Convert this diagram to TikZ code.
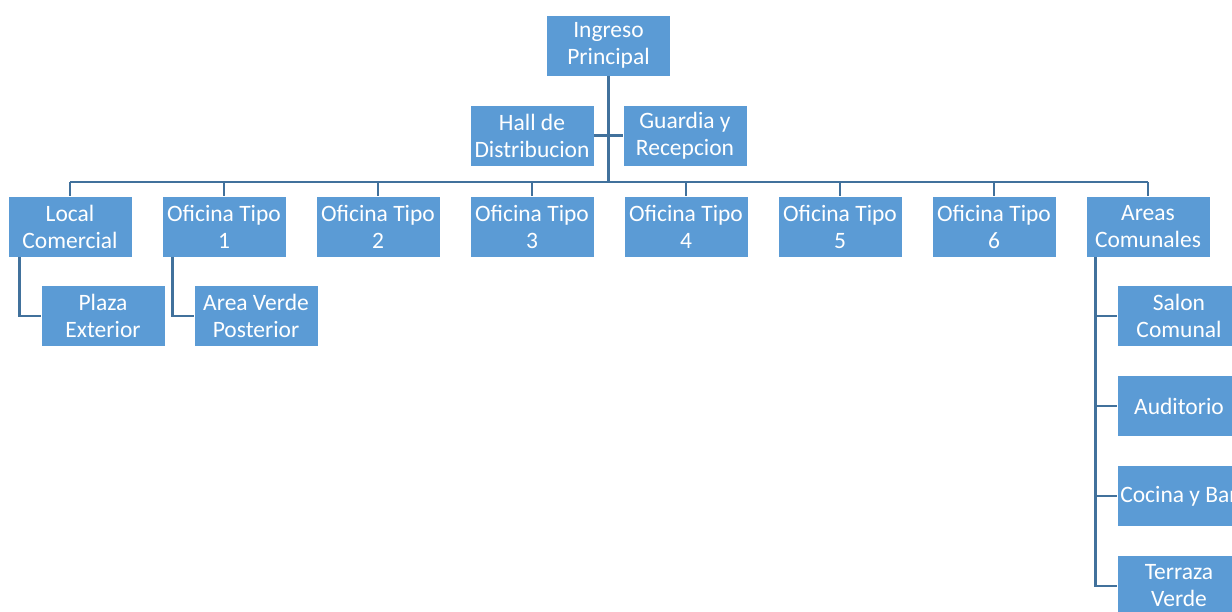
\documentclass[tikz,border=0pt]{standalone}
\usepackage{fontspec}
\setmainfont{Carlito}
\definecolor{boxblue}{HTML}{5B9BD5}
\definecolor{linkblue}{HTML}{41719C}
\begin{document}
\begin{tikzpicture}[x=1pt,y=-1pt,
  unit/.style={fill=boxblue,draw=white,line width=0.8pt,text=white,
    minimum width=124pt,minimum height=61pt,inner sep=0pt,align=center,
    font=\fontsize{23.5}{27}\selectfont},
  link/.style={draw=linkblue,line width=2.6pt}]
\useasboundingbox (0,0) rectangle (1232,612);
\clip (0,0) rectangle (1232,612);

% top level
\node[unit] (ing) at (608.5,45.5) {Ingreso\\Principal};
\node[unit] (hall) at (532,135.5) {Hall de\\Distribucion};
\node[unit] (guard) at (685,135.5) {Guardia y\\Recepcion};
\coordinate (bus) at (609,182);

% second row
\node[unit] (loc) at (70,226.5) {Local\\Comercial};
\node[unit] (of1) at (224,226.5) {Oficina Tipo\\1};
\node[unit] (of2) at (378,226.5) {Oficina Tipo\\2};
\node[unit] (of3) at (532,226.5) {Oficina Tipo\\3};
\node[unit] (of4) at (686,226.5) {Oficina Tipo\\4};
\node[unit] (of5) at (840,226.5) {Oficina Tipo\\5};
\node[unit] (of6) at (994,226.5) {Oficina Tipo\\6};
\node[unit] (areas) at (1148,226.5) {Areas\\Comunales};

% third level
\node[unit] (plaza) at (103,316) {Plaza\\Exterior};
\node[unit] (verde) at (256,316) {Area Verde\\Posterior};
\node[unit] (salon) at (1179,316) {Salon\\Comunal};
\node[unit] (audit) at (1179,406) {Auditorio};
\node[unit] (cocina) at (1179,496) {Cocina y Bar};
\node[unit] (terraza) at (1179,586) {Terraza\\Verde};

% connectors
\draw[link] (ing.south) -- (ing.south |- bus);
\draw[link] (hall.east) -- (guard.west);
\draw[link] (bus -| loc.north) -- (bus -| areas.north);
\foreach \n in {loc,of1,of2,of3,of4,of5,of6,areas}
  \draw[link] (bus -| \n.north) -- (\n.north);
\draw[link] ([xshift=12pt]loc.south west) |- (plaza.west);
\draw[link] ([xshift=11pt]of1.south west) |- (verde.west);
\foreach \n in {salon,audit,cocina,terraza}
  \draw[link] ([xshift=10pt]areas.south west) |- (\n.west);
\end{tikzpicture}
\end{document}
